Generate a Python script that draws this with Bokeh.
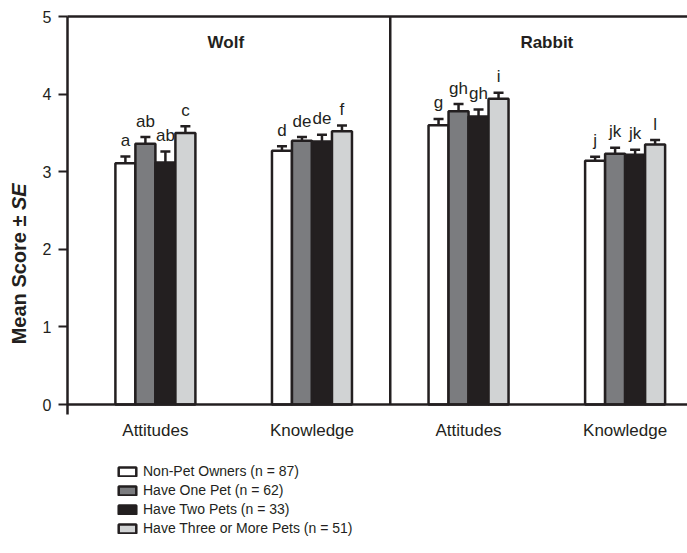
import math
from bokeh.plotting import figure
from bokeh.models import (ColumnDataSource, Whisker, TeeHead, Label, Legend,
                          LegendItem, FixedTicker)
from bokeh.core.properties import value
from bokeh.embed import file_html
from bokeh.resources import INLINE

# ---------------- data ----------------
panels = ["Wolf", "Rabbit"]
panel_title_x = [1.45, 3.5]
panel_divider = 2.5
measures = ["Attitudes", "Knowledge", "Attitudes", "Knowledge"]
group_x = [1, 2, 3, 4]

series = ["Non-Pet Owners (n = 87)", "Have One Pet (n = 62)",
          "Have Two Pets (n = 33)", "Have Three or More Pets (n = 51)"]
non_pet = [3.11, 3.27, 3.60, 3.14]
non_pet_se = [0.085, 0.058, 0.080, 0.054]
one_pet = [3.36, 3.40, 3.78, 3.23]
one_pet_se = [0.086, 0.047, 0.092, 0.080]
two_pets = [3.12, 3.39, 3.71, 3.22]
two_pets_se = [0.140, 0.086, 0.090, 0.064]
three_pets = [3.50, 3.52, 3.94, 3.35]
three_pets_se = [0.086, 0.075, 0.077, 0.058]
letters_non = ["a", "d", "g", "j"]
letters_one = ["ab", "de", "gh", "jk"]
letters_two = ["ab", "de", "gh", "jk"]
letters_three = ["c", "f", "i", "l"]
y_ticks = [0, 1, 2, 3, 4, 5]
y_max = 5

colors = ["#ffffff", "#7b7c7f", "#231f20", "#d1d3d4"]
INK = "#231f20"
FONT = "Liberation Sans"

means = [non_pet, one_pet, two_pets, three_pets]
ses = [non_pet_se, one_pet_se, two_pets_se, three_pets_se]
letters = [letters_non, letters_one, letters_two, letters_three]

# ---------------- geometry (whole canvas is the frame) ----------------
W, H = 687, 553
PX_X = 156.57            # px per group
PX_Y = 77.6              # px per score unit
X_AXIS_PX = 67           # left axis position (px)
Y0_PX = 404              # y=0 position (px from top)
XS = 1 - 154.9 / PX_X
XE = XS + W / PX_X
X0 = XS + X_AXIS_PX / PX_X
YT = Y0_PX / PX_Y
YB = -(H - Y0_PX) / PX_Y
BAR_W = 20 / PX_X

p = figure(width=W, height=H, x_range=(XS, XE), y_range=(YB, YT),
           output_backend="svg", toolbar_location=None,
           min_border_left=0, min_border_right=0, min_border_top=0,
           min_border_bottom=0)
p.outline_line_color = None
p.grid.visible = False

renderers = []
for i in range(4):
    xs = [g + (i - 1.5) * BAR_W for g in group_x]
    src = ColumnDataSource(dict(x=xs, top=means[i],
                                upper=[m + s for m, s in zip(means[i], ses[i])],
                                lower=[m - s for m, s in zip(means[i], ses[i])],
                                lab=letters[i]))
    r = p.vbar(x="x", top="top", width=BAR_W, bottom=0, source=src,
               fill_color=colors[i], line_color=INK, line_width=2.5)
    renderers.append(r)
    w = Whisker(base="x", upper="upper", lower="lower", source=src,
                line_color=INK, line_width=2.5,
                upper_head=TeeHead(size=10, line_color=INK, line_width=2.5),
                lower_head=TeeHead(size=10, line_color=INK, line_width=2.5))
    p.add_layout(w)
    p.text(x="x", y="upper", text="lab", source=src, text_align="center",
           text_baseline="alphabetic", y_offset=-16,
           text_font=value(FONT), text_font_size="17px", text_color=INK)

# frame top line and panel divider
p.segment(x0=[X0], y0=[y_max], x1=[XE], y1=[y_max], line_color=INK, line_width=2.5)
p.segment(x0=[panel_divider], y0=[0], x1=[panel_divider], y1=[y_max],
          line_color=INK, line_width=2.5)

# panel titles
for name, px in zip(panels, panel_title_x):
    p.add_layout(Label(x=px, y=4.665, text=name,
                       text_align="center", text_baseline="alphabetic",
                       text_font=FONT, text_font_size="17px",
                       text_font_style="bold", text_color=INK))

# axes (fixed inside the full-canvas frame)
p.yaxis.fixed_location = X0
p.yaxis.bounds = (-0.13, y_max)
p.yaxis.ticker = FixedTicker(ticks=y_ticks)
p.yaxis.major_tick_out = 9
p.yaxis.major_tick_in = 0
p.yaxis.minor_tick_out = 0
p.yaxis.minor_tick_in = 0
p.yaxis.major_tick_line_width = 2
p.yaxis.major_tick_line_color = INK
p.yaxis.axis_line_width = 2.5
p.yaxis.axis_line_color = INK
p.yaxis.major_label_text_font = FONT
p.yaxis.major_label_text_font_size = "16px"
p.yaxis.major_label_text_color = INK
p.yaxis.major_label_standoff = 7

p.xaxis.fixed_location = 0
p.xaxis.bounds = (X0, XE)
p.xaxis.ticker = FixedTicker(ticks=group_x)
p.xaxis.major_label_overrides = {g: m for g, m in zip(group_x, measures)}
p.xaxis.major_tick_out = 0
p.xaxis.major_tick_in = 0
p.xaxis.minor_tick_out = 0
p.xaxis.minor_tick_in = 0
p.xaxis.axis_line_width = 2.5
p.xaxis.axis_line_color = INK
p.xaxis.major_label_text_font = FONT
p.xaxis.major_label_text_font_size = "17px"
p.xaxis.major_label_text_color = INK
p.xaxis.major_label_standoff = 16

# y axis title (two pieces for the italic SE)
SPLIT = H - 215
p.add_layout(Label(x=18, y=SPLIT, x_units="screen", y_units="screen",
                   text="Mean Score \u00b1", angle=math.pi / 2,
                   text_align="right", text_baseline="middle",
                   text_font=FONT, text_font_size="20px",
                   text_font_style="bold", text_color=INK))
p.add_layout(Label(x=18, y=SPLIT + 5.5, x_units="screen", y_units="screen",
                   text="SE", angle=math.pi / 2,
                   text_align="left", text_baseline="middle",
                   text_font=FONT, text_font_size="20px",
                   text_font_style="bold italic", text_color=INK))

legend = Legend(items=[LegendItem(label=s, renderers=[r]) for s, r in zip(series, renderers)],
                location=(116, H - 536.5), orientation="vertical",
                glyph_width=22, glyph_height=11, label_height=17, label_width=20,
                spacing=2, padding=0, margin=0, label_standoff=5,
                border_line_color=None, background_fill_alpha=0,
                label_text_font=FONT, label_text_font_size="14px",
                label_text_color=INK)
p.add_layout(legend, "center")

open("out.html", "w").write(file_html(p, INLINE))
